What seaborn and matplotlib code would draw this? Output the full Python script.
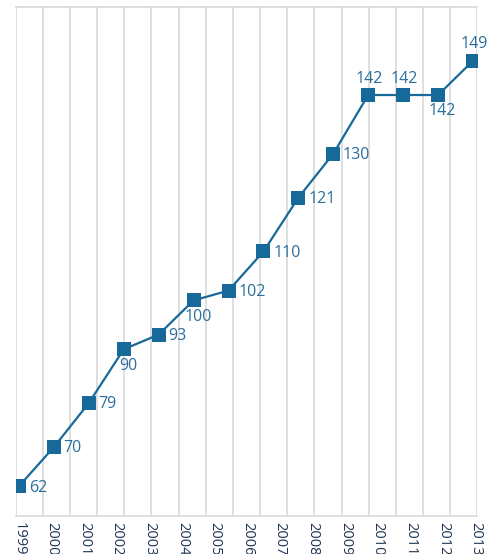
import numpy as np
import pandas as pd
import matplotlib
matplotlib.use('Agg')
import matplotlib.pyplot as plt
import seaborn as sns

# values
point_idx = list(range(14))
values = [62, 70, 79, 90, 93, 100, 102, 110, 121, 130, 142, 142, 142, 149]
label_pos = ['right', 'right', 'right', 'below', 'right', 'below', 'right',
             'right', 'right', 'right', 'above', 'above', 'below', 'above']
years = [str(y) for y in range(1999, 2014)]

LINE_COLOR = '#17699a'
LABEL_COLOR = '#2a6e9c'
YEAR_COLOR = '#1f3552'
GRID_COLOR = '#d9d9d9'

sns.set_theme(style='white')
plt.rcParams['font.family'] = ['Open Sans', 'DejaVu Sans']

df = pd.DataFrame({'idx': point_idx, 'value': values})

fig = plt.figure(figsize=(4.92, 5.54), dpi=100)
ax = fig.add_axes([15.7 / 492, 1 - 516 / 554, (477.3 - 15.7) / 492, (516 - 7) / 554])

sns.lineplot(data=df, x='idx', y='value', ax=ax, color=LINE_COLOR, linewidth=1.6,
             marker='s', markersize=10, markeredgewidth=0, zorder=3)

x_left, x_right = -0.094, 13.123
ax.set_xlim(x_left, x_right)
ax.set_ylim(55.9, 160.0)

# vertical gridlines (minor ticks) and year labels (major ticks)
ax.set_xticks(np.linspace(x_left, x_right, 18), minor=True)
ax.set_xticks(np.linspace(0, 13.09, len(years)))
ax.set_xticklabels(years, rotation=-90, color=YEAR_COLOR, fontsize=10.5)
ax.grid(True, which='minor', axis='x', color=GRID_COLOR, linewidth=1.2)
ax.grid(False, which='major')
ax.tick_params(axis='x', which='both', length=0, pad=4)
ax.set_yticks([])
ax.set_xlabel('')
ax.set_ylabel('')

for side in ['left', 'right']:
    ax.spines[side].set_visible(False)
for side in ['top', 'bottom']:
    ax.spines[side].set_color(GRID_COLOR)
    ax.spines[side].set_linewidth(1.2)

offsets = {'right': ((7, -1), 'left', 'center'),
           'below': ((3, -6), 'center', 'top'),
           'above': ((1, 6), 'center', 'bottom')}
for i, v, pos in zip(point_idx, values, label_pos):
    off, ha, va = offsets[pos]
    ax.annotate(str(v), (i, v), xytext=off, textcoords='offset points',
                ha=ha, va=va, color=LABEL_COLOR, fontsize=11.5)

plt.savefig('out.png', dpi=100)
plt.close()
